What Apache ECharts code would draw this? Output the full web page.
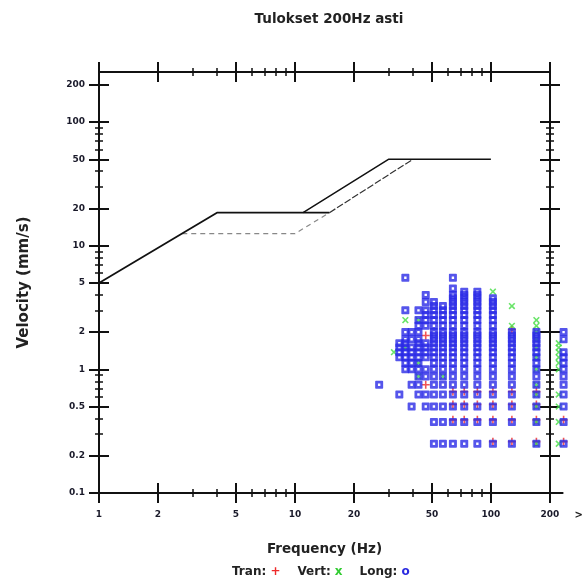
<!DOCTYPE html>
<html>
<head>
<meta charset="utf-8">
<script src="https://cdn.jsdelivr.net/npm/echarts@6/dist/echarts.min.js"></script>
<style>
  html, body { margin: 0; padding: 0; background: #fff; }
  #chart { width: 586px; height: 581px; }
</style>
</head>
<body>
<div id="chart"></div>
<script>
// akselien jaotus
const majorX = [1, 2, 5, 10, 20, 50, 100, 200];
const minorX = [3, 4, 6, 7, 8, 9, 30, 40, 60, 70, 80, 90];
const majorY = [0.1, 0.2, 0.5, 1, 2, 5, 10, 20, 50, 100, 200];
const minorY = [0.3, 0.4, 0.6, 0.7, 0.8, 0.9, 3, 4, 6, 7, 8, 9, 30, 40, 60, 70, 80, 90];

// raja-arvokäyrät
const solidF = [1, 4, 15];
const solidV = [5, 18.5, 18.5];
const upperF = [11, 30, 100];
const upperV = [18.5, 50, 50];
const lowerF = [15, 40];
const lowerV = [18.5, 50];
const grayF = [2.66, 10, 15];
const grayV = [12.5, 12.5, 18.5];

// mittaukset: taajuus (Hz) ja nopeudet (mm/s)
const longFreq = [26.9, 34.1, 36.6, 39.4, 42.7, 46.5, 51.2, 56.9, 64, 73.1, 85.3, 102.4, 128, 170.7, 235];
const longVel = [
  [0.75],
  [0.625, 1.25, 1.375, 1.5, 1.625],
  [1.0, 1.125, 1.25, 1.375, 1.5, 1.625, 1.75, 2.0, 3.0, 5.5],
  [0.5, 0.75, 1.0, 1.125, 1.25, 1.375, 1.5, 1.75, 2.0],
  [0.625, 0.75, 0.875, 1.0, 1.125, 1.25, 1.375, 1.5, 1.625, 1.75, 2.0, 2.25, 2.5, 3.0],
  [0.5, 0.625, 0.875, 1.0, 1.25, 1.375, 1.5, 1.625, 2.25, 2.5, 2.75, 3.0, 3.5, 4.0],
  [0.25, 0.375, 0.5, 0.625, 0.75, 0.875, 1.0, 1.125, 1.25, 1.375, 1.5, 1.625, 1.75, 1.875, 2.0, 2.25, 2.5, 2.75, 3.0, 3.25, 3.5],
  [0.25, 0.375, 0.5, 0.625, 0.75, 0.875, 1.0, 1.125, 1.25, 1.375, 1.5, 1.625, 1.75, 1.875, 2.0, 2.25, 2.5, 2.75, 3.0, 3.25],
  [0.25, 0.375, 0.5, 0.625, 0.75, 0.875, 1.0, 1.125, 1.25, 1.375, 1.5, 1.625, 1.75, 1.875, 2.0, 2.25, 2.5, 2.75, 3.0, 3.25, 3.5, 3.75, 4.0, 4.5, 5.5],
  [0.25, 0.375, 0.5, 0.625, 0.75, 0.875, 1.0, 1.125, 1.25, 1.375, 1.5, 1.625, 1.75, 1.875, 2.0, 2.25, 2.5, 2.75, 3.0, 3.25, 3.5, 3.75, 4.0, 4.25],
  [0.25, 0.375, 0.5, 0.625, 0.75, 0.875, 1.0, 1.125, 1.25, 1.375, 1.5, 1.625, 1.75, 1.875, 2.0, 2.25, 2.5, 2.75, 3.0, 3.25, 3.5, 3.75, 4.0, 4.25],
  [0.25, 0.375, 0.5, 0.625, 0.75, 0.875, 1.0, 1.125, 1.25, 1.375, 1.5, 1.625, 1.75, 1.875, 2.0, 2.25, 2.5, 2.75, 3.0, 3.25, 3.5, 3.75],
  [0.25, 0.375, 0.5, 0.625, 0.75, 0.875, 1.0, 1.125, 1.25, 1.375, 1.5, 1.625, 1.75, 1.875, 2.0],
  [0.25, 0.375, 0.5, 0.625, 0.75, 0.875, 1.0, 1.125, 1.25, 1.375, 1.5, 1.625, 1.75, 1.875, 2.0],
  [0.25, 0.375, 0.5, 0.625, 0.75, 0.875, 1.0, 1.125, 1.25, 1.375, 1.75, 2.0]
];
const vertFreq = [32, 36.6, 42.7, 56.9, 102.4, 128, 170.7, 222];
const vertVel = [
  [1.375],
  [2.5, 1.5],
  [2.5, 1.125, 0.875],
  [0.875],
  [4.25],
  [3.25, 2.25],
  [2.5, 2.25, 2.0, 1.75, 1.5, 1.25, 1.0, 0.75, 0.625, 0.5, 0.375, 0.25],
  [1.625, 1.5, 1.375, 1.25, 1.125, 1.0, 0.625, 0.5, 0.375, 0.25]
];
const tranFreq = [46.5, 64, 73.1, 85.3, 102.4, 128, 170.7, 235];
const tranVel = [
  [1.875, 0.75],
  [0.39, 0.52, 0.66],
  [0.39, 0.52, 0.66],
  [0.39, 0.52, 0.66],
  [0.26, 0.39, 0.52, 0.66],
  [0.26, 0.39, 0.52, 0.66, 2.1],
  [0.26, 0.39, 0.52, 0.66],
  [0.26, 0.39]
];

const xMin = 1, xMax = 200.3, yMin = 0.0999, yMax = 254;
const ink = '#111';
const font = 'DejaVu Sans, Verdana, sans-serif';

function pairs(freq, vel) {
  const out = [];
  freq.forEach((f, i) => vel[i].forEach(v => out.push([f, v])));
  return out;
}

// yksi akseli = yksi tikkisarja (ristikkäiset tikit tehdään kahdella)
function logAxis(kind, position, ticks, len, inside, extra) {
  const range = kind === 'x' ? { min: xMin, max: xMax } : { min: yMin, max: yMax };
  return Object.assign({
    type: 'log', logBase: 10, gridIndex: 0, position, offset: 0,
    ...range,
    axisLine: { show: true, lineStyle: { color: ink, width: 2 } },
    axisTick: { show: true, customValues: ticks, length: len, inside,
      lineStyle: { color: ink, width: len > 6 ? 2 : 1.5 } },
    axisLabel: { show: false },
    splitLine: { show: false },
    minorTick: { show: false },
    minorSplitLine: { show: false }
  }, extra || {});
}

const tickLabel = {
  show: true, formatter: v => String(v),
  fontSize: 9, fontWeight: 'bold', fontFamily: font, color: '#1a1a2a'
};

const xAxes = [
  logAxis('x', 'bottom', majorX, 10, false, {
    axisLabel: Object.assign({}, tickLabel, { customValues: majorX, margin: 17 }),
    name: 'Frequency (Hz)', nameLocation: 'middle', nameGap: 49,
    nameTextStyle: { fontSize: 13.5, fontWeight: 'bold', fontFamily: font, color: '#222' }
  }),
  logAxis('x', 'bottom', majorX, 10, true),
  logAxis('x', 'bottom', minorX, 4, false),
  logAxis('x', 'bottom', minorX, 4, true),
  logAxis('x', 'top', majorX, 10, false),
  logAxis('x', 'top', majorX, 10, true),
  logAxis('x', 'top', minorX, 4, false),
  logAxis('x', 'top', minorX, 4, true),
  {
    type: 'value', gridIndex: 1, min: 0, max: 1,
    axisLine: { show: true, lineStyle: { color: ink, width: 2 } },
    axisTick: { show: false }, axisLabel: { show: false }, splitLine: { show: false },
    name: '>', nameLocation: 'end', nameGap: 12,
    nameTextStyle: { fontSize: 10, fontWeight: 'bold', fontFamily: font, color: '#222',
      verticalAlign: 'top', padding: [17, 0, 0, 0] }
  }
];

const yAxes = [
  logAxis('y', 'left', majorY, 10, false, {
    axisLabel: Object.assign({}, tickLabel, { customValues: majorY, margin: 14 }),
    name: 'Velocity (mm/s)', nameLocation: 'middle', nameGap: 67,
    nameTextStyle: { fontSize: 15, fontWeight: 'bold', fontFamily: font, color: '#222' }
  }),
  logAxis('y', 'left', majorY, 10, true),
  logAxis('y', 'left', minorY, 4, false),
  logAxis('y', 'left', minorY, 4, true),
  logAxis('y', 'right', majorY, 10, false),
  logAxis('y', 'right', majorY, 10, true),
  logAxis('y', 'right', minorY, 4, false),
  logAxis('y', 'right', minorY, 4, true),
  { type: 'value', gridIndex: 1, show: false, min: 0, max: 1 }
];

function limitLine(name, f, v, color, width, type) {
  return {
    name, type: 'line', xAxisIndex: 0, yAxisIndex: 0, symbol: 'none', silent: true,
    data: f.map((x, i) => [x, v[i]]),
    lineStyle: { color, width, type }
  };
}

const plusPath = 'path://M4,0H6V4H10V6H6V10H4V6H0V4H4Z';
const ringPath = 'path://M0,1Q0,0 1,0H9Q10,0 10,1V9Q10,10 9,10H1Q0,10 0,9Z M3.5,3.5V6.5H6.5V3.5Z';

const option = {
  animation: false,
  backgroundColor: '#fff',
  title: {
    text: 'Tulokset 200Hz asti', left: 324, top: 7, textAlign: 'center',
    textStyle: { fontSize: 13.5, fontWeight: 'bold', fontFamily: font, color: '#222' }
  },
  legend: {
    data: ['Tran', 'Vert', 'Long'], left: 222, top: 561,
    icon: 'none', itemWidth: 0, itemHeight: 0, itemGap: 12,
    formatter: name => name + ': {' + name + '|' + ({ Tran: '+', Vert: 'x', Long: 'o' })[name] + '}',
    textStyle: {
      fontSize: 12, fontWeight: 'bold', fontFamily: font, color: '#222',
      rich: {
        Tran: { color: '#ee2a2a', fontSize: 12, fontWeight: 'bold', fontFamily: font },
        Vert: { color: '#33cc33', fontSize: 12, fontWeight: 'bold', fontFamily: font },
        Long: { color: '#2a2ae0', fontSize: 12, fontWeight: 'bold', fontFamily: font }
      }
    }
  },
  grid: [
    { left: 99, top: 72, right: 36, bottom: 88 },
    { left: 550, top: 72, width: 13, bottom: 88 }
  ],
  xAxis: xAxes,
  yAxis: yAxes,
  series: [
    limitLine('raja-harmaa', grayF, grayV, '#888', 1.2, [5, 4]),
    limitLine('raja-ala', lowerF, lowerV, '#333', 1.2, [7, 2]),
    limitLine('raja', solidF, solidV, ink, 1.8, 'solid'),
    limitLine('raja-yla', upperF, upperV, ink, 1.5, 'solid'),
    {
      name: 'Tran', type: 'scatter', xAxisIndex: 0, yAxisIndex: 0, clip: false,
      symbol: plusPath, symbolSize: 8,
      itemStyle: { color: '#ee2a2a' },
      data: pairs(tranFreq, tranVel)
    },
    {
      name: 'Vert', type: 'scatter', xAxisIndex: 0, yAxisIndex: 0, clip: false,
      symbol: plusPath, symbolSize: 8, symbolRotate: 45,
      itemStyle: { color: '#44dd44' },
      data: pairs(vertFreq, vertVel)
    },
    {
      name: 'Long', type: 'scatter', xAxisIndex: 0, yAxisIndex: 0, clip: false,
      symbol: ringPath, symbolSize: 8,
      itemStyle: { color: '#2a2ae6' },
      data: pairs(longFreq, longVel)
    }
  ]
};

const chart = echarts.init(document.getElementById('chart'), null, { renderer: 'canvas' });
chart.setOption(option);
</script>
</body>
</html>
